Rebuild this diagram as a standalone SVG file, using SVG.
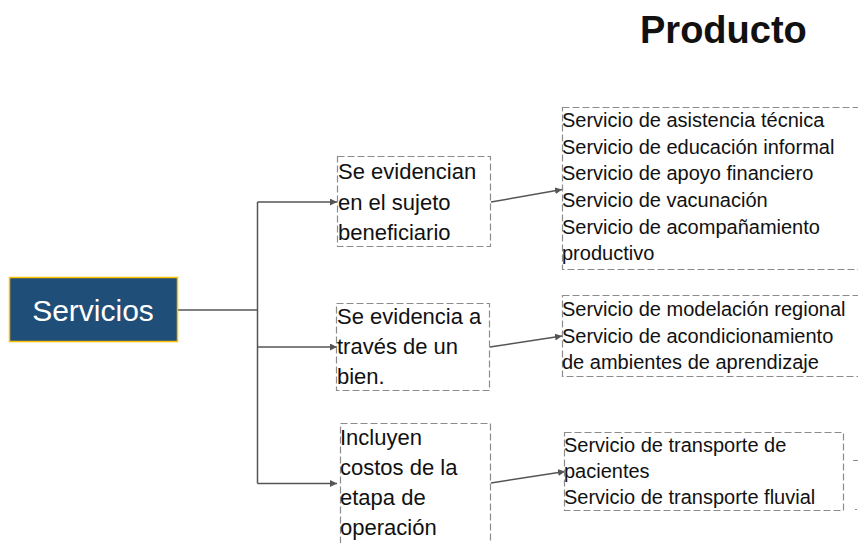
<svg xmlns="http://www.w3.org/2000/svg" width="858" height="543" viewBox="0 0 858 543">
<style>
.t{font-family:"Liberation Sans",Arial,sans-serif;fill:#111}
.mid{font-size:22px}
.rt{font-size:20px}
.box{fill:none;stroke:#8c8c8c;stroke-width:1.2;stroke-dasharray:7 3}
.con{fill:none;stroke:#555;stroke-width:1.5}
</style>
<defs>
<marker id="ah" viewBox="0 0 10 10" refX="10" refY="5" markerWidth="7" markerHeight="7" markerUnits="userSpaceOnUse" orient="auto">
<path d="M0,0 L10,5 L0,10 z" fill="#555"/>
</marker>
</defs>
<rect width="858" height="543" fill="#fff"/>
<text class="t" x="640" y="43" font-size="38" font-weight="bold">Producto</text>

<g id="connectors">
<path class="con" d="M178,310 H257.5 M257.5,202 V483.5"/>
<path class="con" d="M257.5,202 H337" marker-end="url(#ah)"/>
<path class="con" d="M257.5,347 H337" marker-end="url(#ah)"/>
<path class="con" d="M257.5,483.5 H337" marker-end="url(#ah)"/>
<path class="con" d="M491,202 L562,189.5" marker-end="url(#ah)"/>
<path class="con" d="M490,347 L562,336" marker-end="url(#ah)"/>
<path class="con" d="M491,483 L565,471.5" marker-end="url(#ah)"/>
</g>

<g id="servicios">
<rect x="9.5" y="277.5" width="168" height="64" fill="#1F4E79" stroke="#FFC000" stroke-width="1.5"/>
<text class="t" x="93" y="321" font-size="30" text-anchor="middle" style="fill:#fff">Servicios</text>
</g>

<g id="sujeto">
<rect class="box" x="337.5" y="156.5" width="153" height="90"/>
<text class="t mid" x="338" y="179">Se evidencian</text>
<text class="t mid" x="338" y="210">en el sujeto</text>
<text class="t mid" x="338" y="240">beneficiario</text>
</g>

<g id="bien">
<rect class="box" x="336.5" y="303.5" width="153" height="87"/>
<text class="t mid" x="337" y="324">Se evidencia a</text>
<text class="t mid" x="337" y="354">través de un</text>
<text class="t mid" x="337" y="384">bien.</text>
</g>

<g id="operacion">
<rect class="box" x="340.5" y="423.5" width="150" height="130"/>
<text class="t mid" x="340" y="445">Incluyen</text>
<text class="t mid" x="340" y="475">costos de la</text>
<text class="t mid" x="340" y="505">etapa de</text>
<text class="t mid" x="340" y="535">operación</text>
</g>

<g id="productos1">
<rect class="box" x="562.5" y="107.5" width="310" height="162"/>
<text class="t rt" x="562" y="127">Servicio de asistencia técnica</text>
<text class="t rt" x="562" y="154">Servicio de educación informal</text>
<text class="t rt" x="562" y="180">Servicio de apoyo financiero</text>
<text class="t rt" x="562" y="207">Servicio de vacunación</text>
<text class="t rt" x="562" y="234">Servicio de acompañamiento</text>
<text class="t rt" x="562" y="260">productivo</text>
</g>

<g id="productos2">
<rect class="box" x="562.5" y="295.5" width="310" height="81"/>
<text class="t rt" x="562" y="316">Servicio de modelación regional</text>
<text class="t rt" x="562" y="343">Servicio de acondicionamiento</text>
<text class="t rt" x="562" y="369">de ambientes de aprendizaje</text>
</g>

<g id="productos3">
<rect class="box" x="564.5" y="432.5" width="279" height="78"/>
<text class="t rt" x="564" y="452">Servicio de transporte de</text>
<text class="t rt" x="564" y="478">pacientes</text>
<text class="t rt" x="564" y="504">Servicio de transporte fluvial</text>
</g>

<g id="edge-marks">
<line x1="853" y1="460.5" x2="858" y2="460.5" stroke="#8c8c8c" stroke-width="1"/>
<line x1="855" y1="509.5" x2="857" y2="509.5" stroke="#8c8c8c" stroke-width="1"/>
</g>
</svg>
